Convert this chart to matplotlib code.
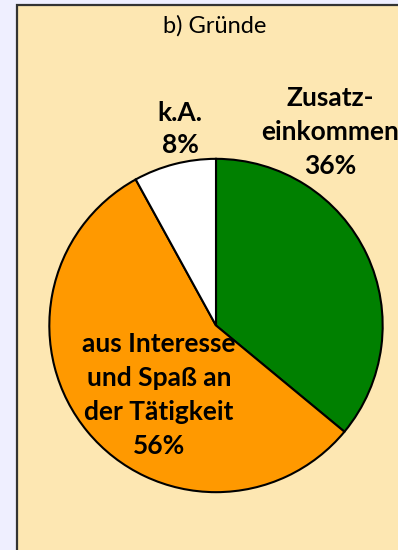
import matplotlib
matplotlib.use("Agg")
import matplotlib.pyplot as plt
from matplotlib.patches import Rectangle

# Data
labels = ["Zusatz-\neinkommen", "aus Interesse\nund Spaß an\nder Tätigkeit", "k.A."]
values = [36, 56, 8]
colors = ["#008000", "#FF9900", "#FFFFFF"]
title = "b) Gründe"

W, H = 398, 550
DPI = 100
plt.rcParams["font.family"] = ["Lato", "DejaVu Sans"]

fig = plt.figure(figsize=(W / DPI, H / DPI), dpi=DPI, facecolor="#EFEFFF")

# Panel background with dark border on top and left
panel = Rectangle((17 / W, -0.1), 1.2, 1.1 - 5 / H, transform=fig.transFigure,
                  facecolor="#FDE7B2", edgecolor="#333333", linewidth=1.6,
                  zorder=-5)
fig.add_artist(panel)

# Pie axes: center (216, 325.5) px
cx, cy, r = 216, 325.5, 167.5
ax = fig.add_axes([(cx - r) / W, (H - cy - r) / H, 2 * r / W, 2 * r / H])
ax.set_zorder(1)
ax.pie(values, colors=colors, startangle=90, counterclock=False, radius=1,
       wedgeprops=dict(edgecolor="black", linewidth=1.5))
ax.set_xlim(-1.005, 1.005)
ax.set_ylim(-1.005, 1.005)
ax.set_aspect("equal")
ax.axis("off")

def px(x, y):
    return x / W, 1 - y / H

fig.text(*px(215, 26), title, ha="center", va="center", fontsize=17,
         zorder=5)

def block(x, y0, step, text_lines):
    for i, t in enumerate(text_lines):
        fig.text(*px(x, y0 + i * step), t, ha="center", va="center",
                 fontsize=19, fontweight="bold", zorder=5)

block(330, 98, 34, labels[0].split("\n") + [f"{values[0]}%"])
block(159, 344, 34, labels[1].split("\n") + [f"{values[1]}%"])
block(180, 113, 32, labels[2].split("\n") + [f"{values[2]}%"])

fig.savefig("out.png", dpi=DPI, facecolor=fig.get_facecolor())
